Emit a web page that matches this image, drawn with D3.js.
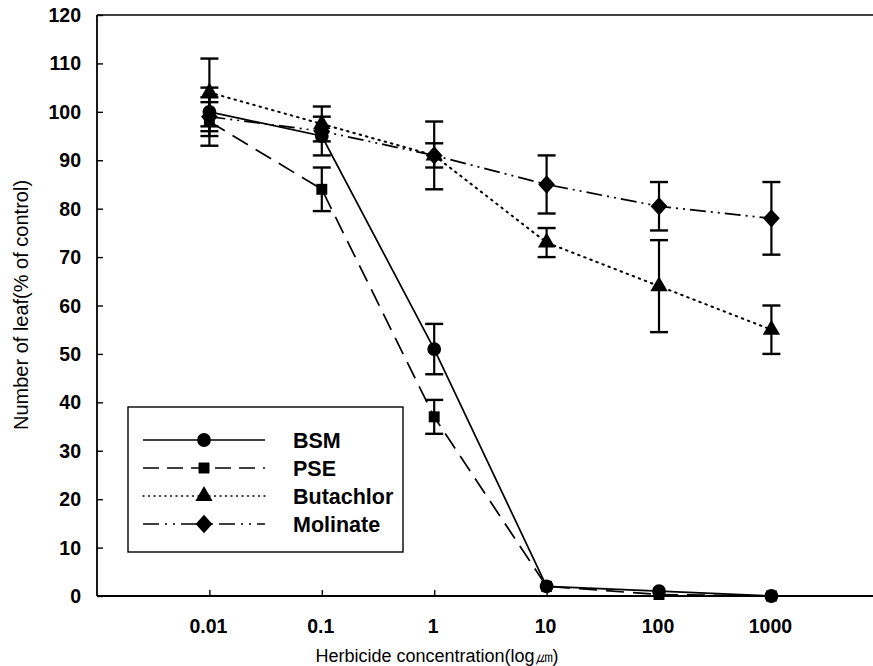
<!DOCTYPE html>
<html><head><meta charset="utf-8">
<script src="https://cdn.jsdelivr.net/npm/d3@7"></script>
<style>body{margin:0;background:#fff}svg{display:block}</style>
</head><body>
<svg id="c" width="873" height="666"></svg>
<script>
const concentrations = [0.01, 0.1, 1, 10, 100, 1000];
const xTickLabels = ["0.01", "0.1", "1", "10", "100", "1000"];
const yTicks = [0, 10, 20, 30, 40, 50, 60, 70, 80, 90, 100, 110, 120];
const seriesNames = ["BSM", "PSE", "Butachlor", "Molinate"];
const bsmValues = [100, 95, 51, 2, 1, 0];
const bsmErrors = [5, 4, 5.2, 0.5, 0.3, 0];
const pseValues = [98, 84, 37, 2, 0.3, 0];
const pseErrors = [5, 4.5, 3.5, 0.5, 0, 0];
const butachlorValues = [104, 97.5, 91, 73, 64, 55];
const butachlorErrors = [7, 3.6, 2.5, 3, 9.5, 5];
const molinateValues = [99, 96, 91, 85, 80.5, 78];
const molinateErrors = [3, 0, 7, 6, 5, 7.5];

const diamond = { draw(ctx, size) { const r = Math.sqrt(size / 2); ctx.moveTo(0, -r * 1.1); ctx.lineTo(r, 0); ctx.lineTo(0, r * 1.1); ctx.lineTo(-r, 0); ctx.closePath(); } };
const series = [
  {name: "BSM", values: bsmValues, errors: bsmErrors, dash: null, ldash: null, sym: d3.symbolCircle, size: 150},
  {name: "PSE", values: pseValues, errors: pseErrors, dash: "18,9", ldash: "16,8", sym: d3.symbolSquare, size: 120},
  {name: "Butachlor", values: butachlorValues, errors: butachlorErrors, dash: "1.5,5", ldash: "1,4.5", sym: d3.symbolTriangle, size: 130, cap: "round"},
  {name: "Molinate", values: molinateValues, errors: molinateErrors, dash: "16,5,2,5,2,5", ldash: "16,6,2,6,2,6", sym: diamond, size: 140}
];

const svg = d3.select("#c");
const font = "'Liberation Sans', Arial, sans-serif";
const x = d3.scaleLog().domain([0.001, 10000]).range([97, 883.8]);
const y = d3.scaleLinear().domain([0, 120]).range([596, 15]);

svg.append("line").attr("x1", 97).attr("x2", 873).attr("y1", y(120)).attr("y2", y(120)).attr("stroke", "#000").attr("stroke-width", 1.6);

const yAxis = d3.axisRight(y).tickValues(yTicks).tickSize(6).tickFormat("");
const gy = svg.append("g").attr("transform", "translate(97,0)").call(yAxis);
gy.select(".domain").attr("stroke-width", 1.8).attr("d", `M0,${y(0)}V${y(120)}`);
gy.selectAll(".tick line").attr("stroke-width", 1.4);
svg.append("g").selectAll("text").data(yTicks).join("text")
  .attr("x", 81).attr("y", d => y(d)).attr("dy", "0.36em").attr("text-anchor", "end")
  .attr("font-family", font).attr("font-weight", "bold").attr("font-size", 19.5).text(d => d);

const xAxis = d3.axisTop(x).tickValues(concentrations).tickSize(6).tickFormat("");
const gx = svg.append("g").attr("transform", `translate(0,${y(0)})`).call(xAxis);
gx.select(".domain").attr("stroke-width", 1.8).attr("d", "M97,0H873");
gx.selectAll(".tick line").attr("stroke-width", 1.4);
svg.append("g").selectAll("text").data(concentrations).join("text")
  .attr("x", (d) => x(d) - 1).attr("y", 633).attr("text-anchor", "middle")
  .attr("font-family", font).attr("font-weight", "bold").attr("font-size", 19.5)
  .text((d, i) => xTickLabels[i]);

svg.append("text").attr("x", 437).attr("y", 662).attr("text-anchor", "middle")
  .attr("font-family", font).attr("font-size", 18)
  .text("Herbicide concentration(log㎛)");
svg.append("text").attr("transform", "translate(28,305) rotate(-90)").attr("text-anchor", "middle")
  .attr("font-family", font).attr("font-size", 20)
  .text("Number of leaf(% of control)");

const line = d3.line().x((d, i) => x(concentrations[i])).y(d => y(d));
series.forEach(s => {
  svg.append("path").attr("d", line(s.values)).attr("fill", "none").attr("stroke", "#000")
    .attr("stroke-width", s.name === "Butachlor" ? 2 : 1.7)
    .attr("stroke-dasharray", s.dash).attr("stroke-linecap", s.cap || "butt");
});

series.forEach(s => {
  const g = svg.append("g");
  s.values.forEach((v, i) => {
    const e = s.errors[i];
    if (e < 1) return;
    const cx = x(concentrations[i]);
    g.append("line").attr("x1", cx).attr("x2", cx).attr("y1", y(v + e)).attr("y2", y(v - e)).attr("stroke", "#000").attr("stroke-width", 2.2);
    [v + e, v - e].forEach(t => g.append("line").attr("x1", cx - 9).attr("x2", cx + 9).attr("y1", y(t)).attr("y2", y(t)).attr("stroke", "#000").attr("stroke-width", 2.4));
  });
});

series.forEach(s => {
  svg.append("g").selectAll("path").data(s.values).join("path")
    .attr("transform", (d, i) => `translate(${x(concentrations[i])},${y(d)})`)
    .attr("d", d3.symbol().type(s.sym).size(s.size)).attr("fill", "#000");
});

const lg = svg.append("g");
lg.append("rect").attr("x", 128).attr("y", 407).attr("width", 275).attr("height", 145)
  .attr("fill", "#fff").attr("stroke", "#000").attr("stroke-width", 1.4);
series.forEach((s, i) => {
  const ly = 440 + i * 28;
  lg.append("line").attr("x1", 143).attr("x2", 265).attr("y1", ly).attr("y2", ly)
    .attr("stroke", "#000").attr("stroke-width", 1.5)
    .attr("stroke-dasharray", s.ldash).attr("stroke-linecap", s.cap || "butt");
  lg.append("path").attr("transform", `translate(204,${ly})`).attr("d", d3.symbol().type(s.sym).size(s.size)).attr("fill", "#000");
  lg.append("text").attr("x", 293).attr("y", ly).attr("dy", "0.36em")
    .attr("font-family", font).attr("font-weight", "bold").attr("font-size", 21.5).text(seriesNames[i]);
});
</script>
</body></html>
